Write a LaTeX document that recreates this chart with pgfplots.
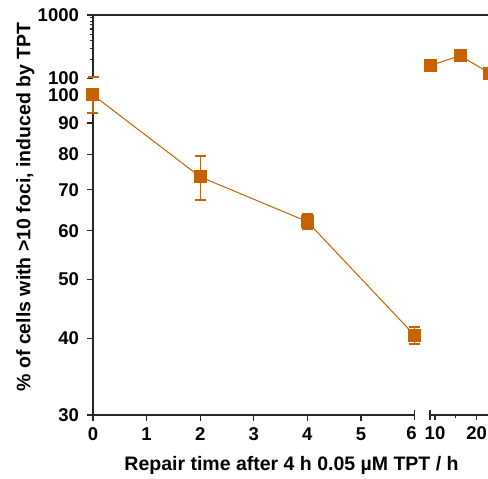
\documentclass[border=0pt]{standalone}
\usepackage{pgfplots}
\pgfplotsset{compat=1.18}
\usepackage{fontspec}
\setmainfont{Liberation Sans}
\definecolor{orng}{RGB}{198,98,0}

% lower segment, 0-6 h (error bars in %)
\pgfplotstableread{
x   y     ep   em
0   100   0    6.7
2   73.5  6.1  6.1
4   62.1  1.9  1.7
6   40.5  1.3  1.3
}\lowdata
% part of the 0 h error bar above the break
\pgfplotstableread{
x   y     ep
0   100   6.7
}\topbar
% later time points, upper segment
\pgfplotstableread{
x     y
8.8   159
16    229
23    122
}\highdata

\pgfplotsset{
  brk/.style={
    scale only axis, clip=false,
    tick label style={font=\fontsize{18.5}{21}\selectfont\bfseries},
    /pgf/number format/assume math mode=true,
    axis line style={line width=1.2pt, black!85, -},
    every tick/.style={line width=1.2pt, black!85},
    tick align=outside, major tick length=5pt, minor tick length=3pt,
    xticklabel style={yshift=-3.5pt},
    yticklabel style={inner sep=0pt, xshift=-7.9pt},
  },
  dat/.style={orng, line width=1pt, mark=square*, mark size=6pt,
    mark options={solid, fill=orng, draw=orng}},
  ebar/.style={/pgfplots/error bars/.cd, y dir=#1, y explicit,
    error bar style={orng, line width=1.3pt},
    error mark options={orng, rotate=90, line width=2pt, mark size=5.5pt},
    /pgfplots/.cd},
}

\begin{document}
\begin{tikzpicture}
\useasboundingbox (0,0) rectangle (488pt,479pt);

% lower-left panel
\begin{axis}[brk, at={(93pt,64pt)}, anchor=south west,
  width=321.5pt, height=320pt,
  xmin=0, xmax=6, ymin=30, ymax=100, ymode=log,
  axis x line*=bottom, axis y line*=left,
  xtick={0,1,2,3,4,5}, xticklabels={0,1,2,3,4,5},
  extra x ticks={6}, extra x tick labels={6},
  extra x tick style={tick align=center, major tick length=10pt,
    xticklabel style={xshift=-3pt}},
  ytick={30,40,50,60,70,80,90,100},
  yticklabels={30,40,50,60,70,80,90,100},
  minor ytick={}, major tick length=6pt,
]
\addplot[dat, ebar=both]
  table[x=x, y=y, y error plus=ep, y error minus=em] {\lowdata};
\end{axis}

% lower-right panel
\begin{axis}[brk, at={(430pt,64pt)}, anchor=south west,
  width=58pt, height=320pt,
  xmin=8.8, xmax=22.7, ymin=30, ymax=100, ymode=log,
  axis x line*=bottom, axis y line=none,
  xtick={10,20}, xticklabels={10,20}, minor xtick={15},
  extra x ticks={8.8}, extra x tick labels={},
  extra x tick style={tick align=center, major tick length=10pt},
  ytick=\empty,
]
\addplot[draw=none, mark=none] coordinates {(10,50)};
\end{axis}

% upper-left panel
\begin{axis}[brk, at={(93pt,400.5pt)}, anchor=south west,
  width=321.5pt, height=63.5pt,
  xmin=0, xmax=6, ymin=100, ymax=1000, ymode=log,
  axis x line*=top, axis y line*=left, xtick=\empty,
  ytick={100,1000}, yticklabels={100,1000},
  minor ytick={200,300,400,500,600,700,800,900}, major tick length=6pt,
]
\addplot[draw=none, mark=none, ebar=plus]
  table[x=x, y=y, y error plus=ep] {\topbar};
\end{axis}

% upper-right panel
\begin{axis}[brk, at={(430pt,400.5pt)}, anchor=south west,
  width=58pt, height=63.5pt,
  xmin=8.8, xmax=22.7, ymin=100, ymax=1000, ymode=log,
  axis x line*=top, axis y line=none, xtick=\empty, ytick=\empty,
]
\addplot[dat] table[x=x, y=y] {\highdata};
\end{axis}

% top frame line across the break
\draw[line width=1.2pt, black!85] (93pt,464pt) -- (488pt,464pt);

% axis titles
\node[font=\fontsize{19.5}{23}\selectfont\bfseries, anchor=base]
  at (291.5pt,8.3pt) {Repair time after 4 h 0.05 µM TPT / h};
\node[font=\fontsize{19.5}{23}\selectfont\bfseries, rotate=90, anchor=base]
  at (30.5pt,272pt) {\% of cells with >10 foci, induced by TPT};
\end{tikzpicture}
\end{document}
